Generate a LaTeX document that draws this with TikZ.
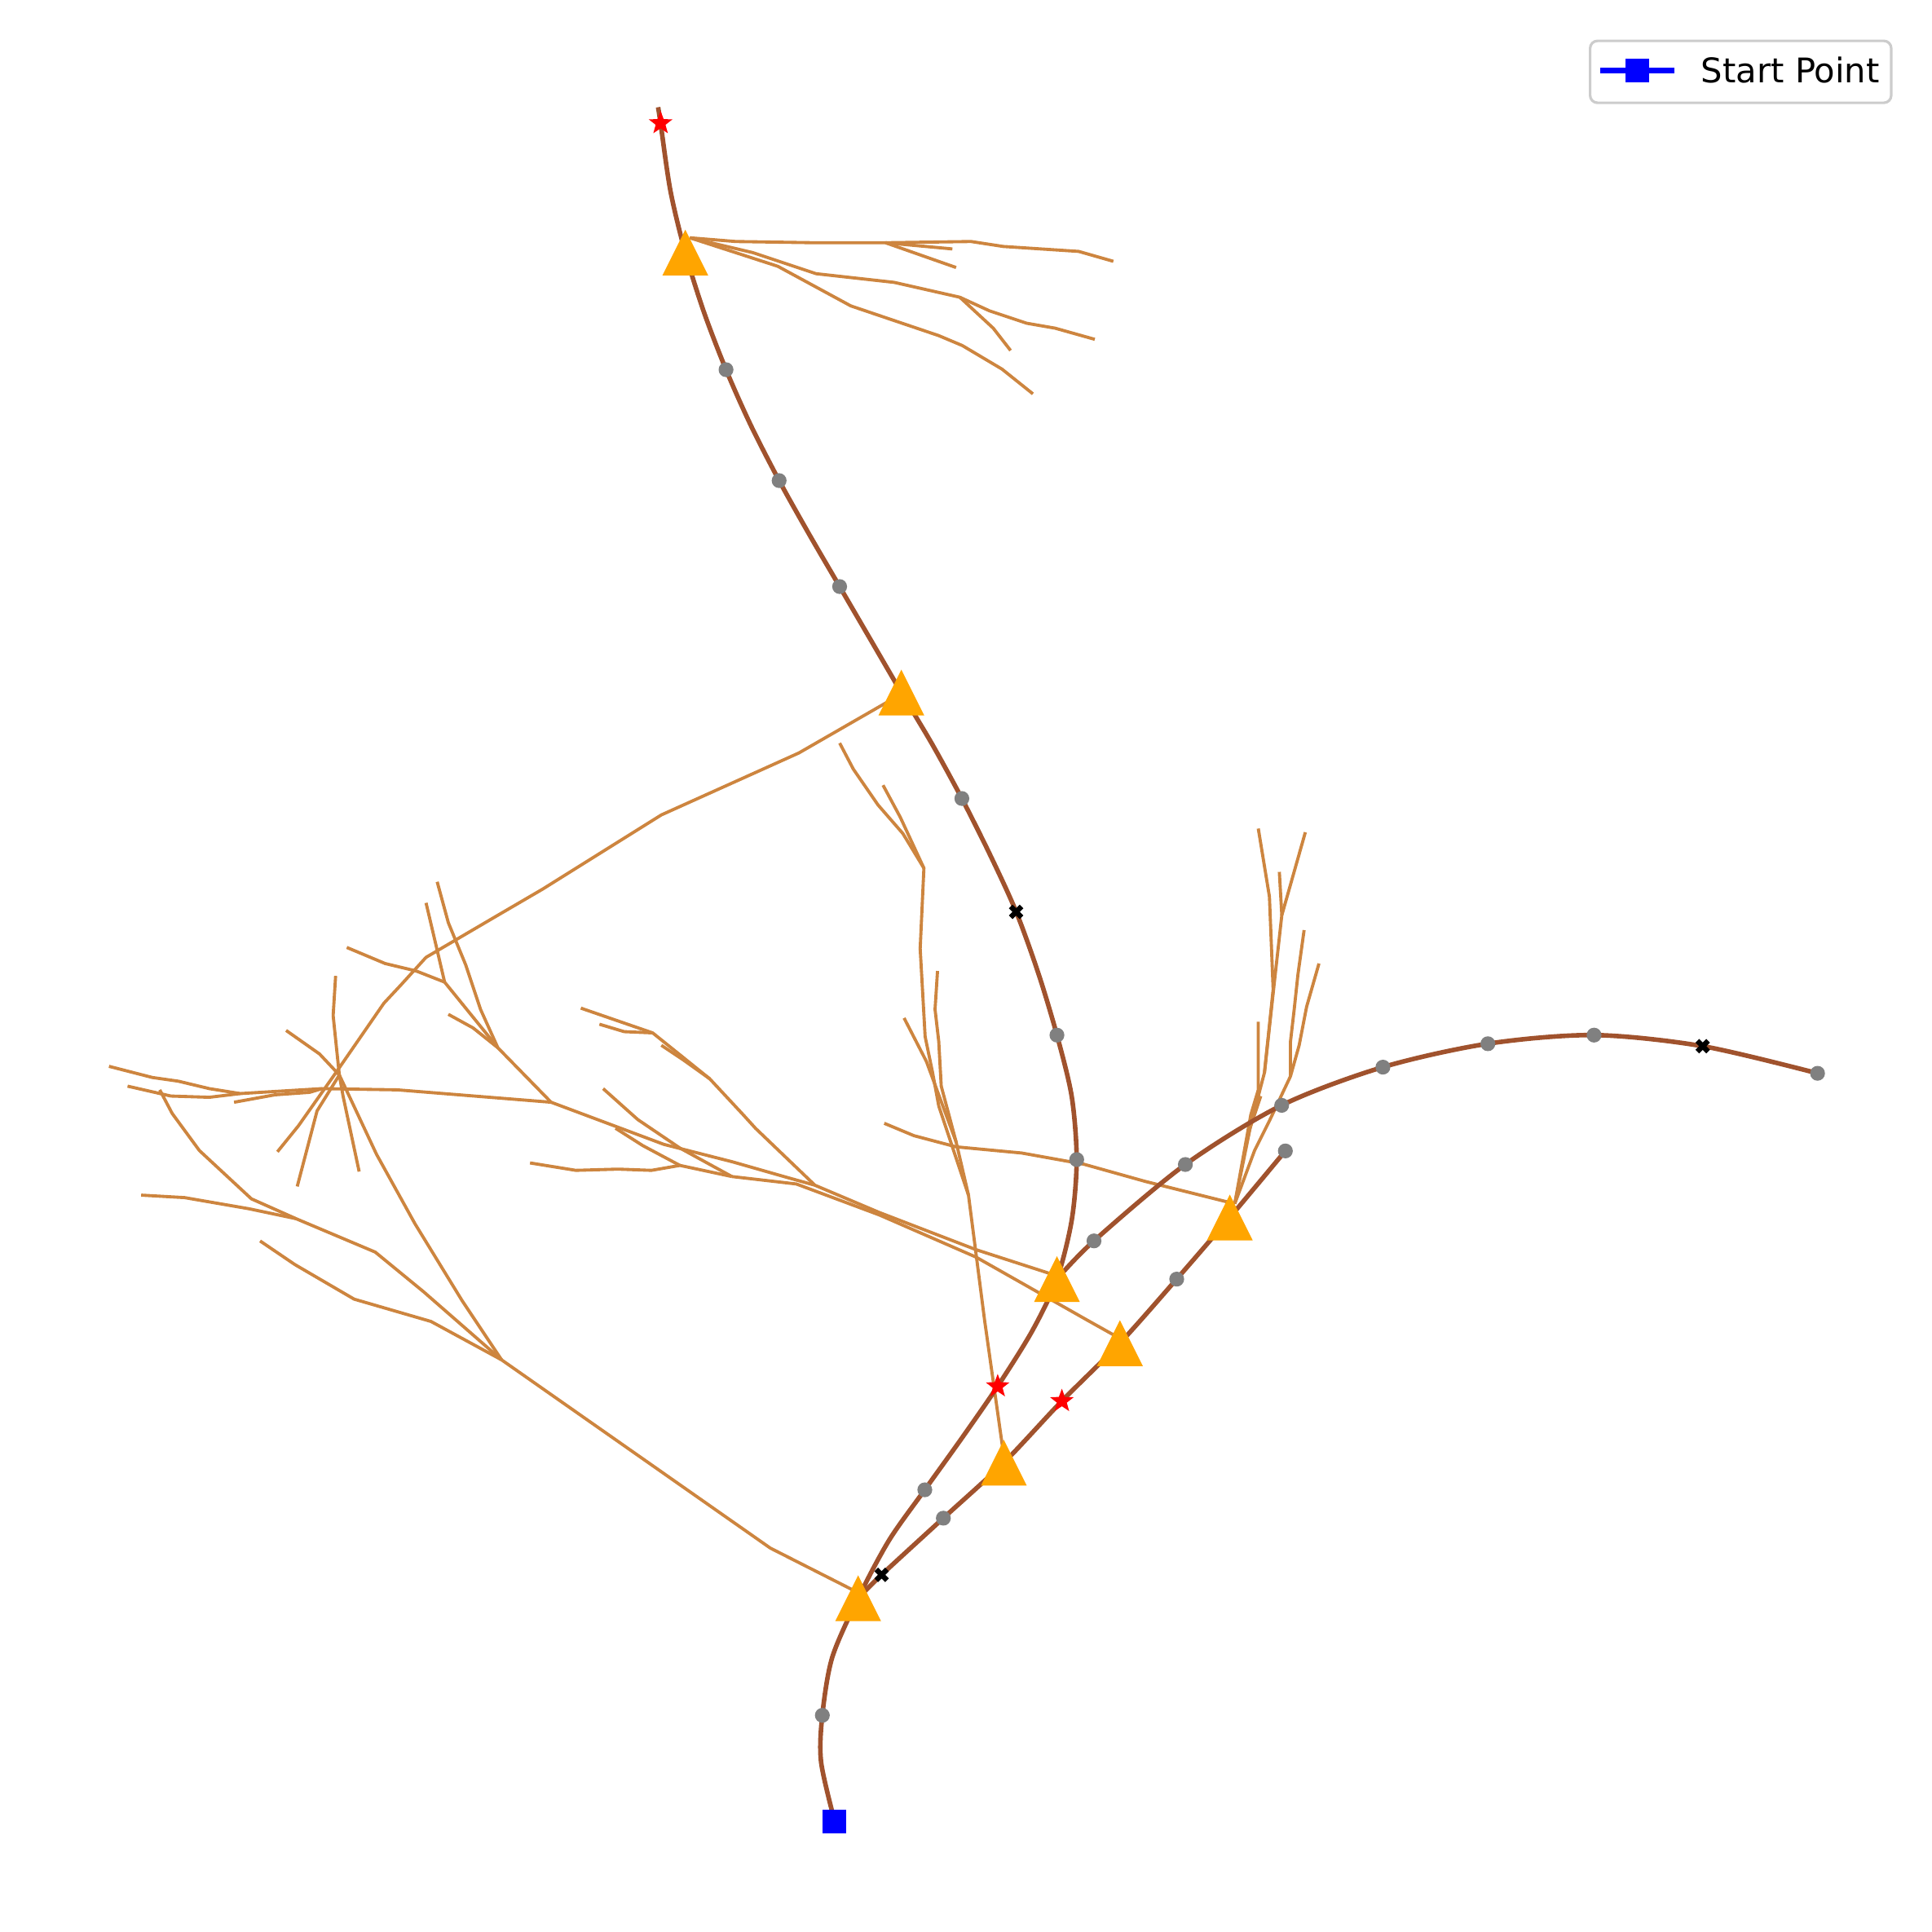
\documentclass[tikz,border=0pt]{standalone}
\usepackage{fontspec}
\setmainfont{DejaVu Sans}
\usetikzlibrary{shapes,positioning}
\definecolor{sienna}{RGB}{160,82,45}
\definecolor{peru}{RGB}{205,133,63}
\definecolor{mplorange}{RGB}{255,165,0}
\definecolor{mplgray}{RGB}{128,128,128}
\tikzstyle{trunk}=[draw=sienna,line width=1.05pt,line join=round]
\tikzstyle{twig}=[draw=peru,line width=0.72pt,line join=round]
\tikzstyle{waypt}=[circle,fill=mplgray,inner sep=0pt,minimum size=1.2mm]
\tikzstyle{hit}=[star,star points=5,star point ratio=2.4,fill=red,inner sep=0pt,minimum size=2mm]
\tikzstyle{miss}=[cross out,draw=black,line width=1.2pt,inner sep=0pt,minimum size=0.45mm]
\tikzstyle{startpt}=[rectangle,fill=blue,inner sep=0pt,minimum size=1.9mm]
\tikzstyle{trimark}=[fill=mplorange]
\tikzstyle{legendbox}=[rectangle,draw=black!20,fill=white,line width=0.6pt,rounded corners=0.6mm,minimum width=2.43cm,minimum height=0.5cm]
\newcommand{\tri}[1]{\fill[trimark] (#1) ++(0,-18.5) -- ++(18.5,37) -- ++(-37,0) -- cycle;}

\begin{document}
\begin{tikzpicture}[x=0.01cm,y=-0.01cm]
            \useasboundingbox (0,0) rectangle (1560,1560);

            % T1 PART
            \draw[twig] (557,192) -- (594,195) -- (658,196) -- (715,196) -- (784,195) -- (810,199) -- (871,203) -- (899,211);
            \draw[twig] (715,196) -- (769,201);
            \draw[twig] (715,196) -- (772,216);
            \draw[twig] (557,192) -- (608,204) -- (659,221) -- (722,228) -- (775,240) -- (799,251) -- (829,261) -- (852,265) -- (884,274);
            \draw[twig] (775,240) -- (802,265) -- (816,283);
            \draw[twig] (557,192) -- (628,215) -- (687,247) -- (758,271) -- (777,279) -- (809,298) -- (834,318);

            % T2 PART
            \draw[twig] (718,566) -- (645,608) -- (534,658) -- (438,718) -- (402,739) -- (344,773) -- (324,795) -- (310,810) -- (272,865) -- (241,909) -- (224,930);

            % T3 PART
            \draw[twig] (853,1030) -- (788,1009) -- (710,979) -- (658,957) -- (633,950) -- (591,938) -- (536,924) -- (445,890);
            \draw[twig] (445,890) -- (402,846) -- (388,815) -- (376,779) -- (362,745) -- (353,712);
            \draw[twig] (402,846) -- (359,793) -- (352,763) -- (344,729);
            \draw[twig] (359,793) -- (336,784) -- (311,778) -- (280,765);
            \draw[twig] (402,846) -- (382,830) -- (362,819);
            \draw[twig] (445,890) -- (321,880) -- (260,879) -- (194,883) -- (169,879) -- (144,873) -- (123,870) -- (88,861);
            \draw[twig] (194,883) -- (169,886) -- (138,885) -- (103,877);
            \draw[twig] (260,879) -- (250,882) -- (222,884) -- (189,890);
            \draw[twig] (658,957) -- (610,911) -- (600,900) -- (573,871) -- (527,834) -- (469,814);
            \draw[twig] (527,834) -- (504,833) -- (484,827);
            \draw[twig] (573,871) -- (552,856) -- (534,844);

            % T4 PART
            \draw[twig] (997,972) -- (1010,908) -- (1021,866) -- (1028,799) -- (1025,724) -- (1016,669);
            \draw[twig] (1021,866) -- (1029,793) -- (1035,739) -- (1054,672);
            \draw[twig] (1035,739) -- (1033,704);
            \draw[twig] (997,972) -- (1013,929) -- (1025,905) -- (1042,869) -- (1042,841) -- (1045,815) -- (1048,787) -- (1053,751);
            \draw[twig] (1042,869) -- (1049,844) -- (1055,813) -- (1065,778);
            \draw[twig] (997,972) -- (1010,900) -- (1016,880) -- (1016,825);
            \draw[twig] (1008,915) -- (1018,885);
            \draw[twig] (997,972) -- (925,954) -- (875,940) -- (825,931) -- (772,926) -- (738,917) -- (714,907);

            % T5 PART
            \draw[twig] (903,1080) -- (878,1066) -- (788,1015) -- (710,981) -- (643,956) -- (591,950);
            \draw[twig] (591,950) -- (549,941) -- (526,945) -- (499,944) -- (465,945) -- (428,939);
            \draw[twig] (549,941) -- (519,925) -- (497,911);
            \draw[twig] (591,950) -- (549,927) -- (515,904) -- (487,879);

            % T6 PART
            \draw[twig] (810,1172) -- (795,1066) -- (782,965);
            \draw[twig] (782,965) -- (758,893) -- (753,866) -- (747,837) -- (743,766) -- (746,701) -- (729,673) -- (709,650) -- (689,621) -- (678,600);
            \draw[twig] (746,701) -- (727,660) -- (713,634);
            \draw[twig] (782,965) -- (772,922) -- (760,877) -- (758,841) -- (755,815) -- (757,784);
            \draw[twig] (772,922) -- (748,857) -- (730,822);

            % T7 PART
            \draw[twig] (689,1284) -- (622,1250) -- (405,1098);
            \draw[twig] (405,1098) -- (373,1050) -- (335,988) -- (304,932) -- (274,868);
            \draw[twig] (274,868) -- (272,849) -- (269,820) -- (271,788);
            \draw[twig] (274,868) -- (277,885) -- (290,946);
            \draw[twig] (274,868) -- (258,851) -- (231,832);
            \draw[twig] (274,868) -- (256,897) -- (240,958);
            \draw[twig] (405,1098) -- (342,1043) -- (303,1011) -- (239,984) -- (203,968) -- (161,929) -- (139,899) -- (129,880);
            \draw[twig] (239,984) -- (201,976) -- (149,967) -- (114,965);
            \draw[twig] (405,1098) -- (348,1067) -- (286,1049) -- (238,1021) -- (210,1002);

            % MAIN PATHS
            \begin{scope}[xscale=0.997,yscale=0.995]
            \coordinate (s0) at (676,1478);
            \coordinate (g1) at (666,1392);
            \coordinate (T7) at (695,1297);
            \coordinate (g2) at (749,1209);
            \coordinate (h1) at (808,1125);
            \coordinate (T3) at (856,1038);
            \coordinate (g3) at (872,941);
            \coordinate (g4) at (856,840);
            \coordinate (m1) at (823,740);
            \coordinate (g5) at (779,648);
            \coordinate (T2) at (730,562);
            \coordinate (g6) at (680,476);
            \coordinate (g7) at (631,390);
            \coordinate (g8) at (588,300);
            \coordinate (T1) at (555,205);
            \coordinate (h2) at (535,100);
            \coordinate (e1) at (533,87);

            \coordinate (m2) at (714,1278);
            \coordinate (g9) at (764,1232);
            \coordinate (T6) at (813,1187);
            \coordinate (h3) at (860,1137);
            \coordinate (T5) at (907,1090);
            \coordinate (g10) at (953,1038);
            \coordinate (T4) at (996,988);
            \coordinate (g11) at (1041,934);

            \coordinate (g12) at (886,1007);
            \coordinate (g13) at (960,945);
            \coordinate (g14) at (1038,897);
            \coordinate (g15) at (1120,866);
            \coordinate (g16) at (1205,847);
            \coordinate (g17) at (1291,840);
            \coordinate (m3) at (1379,849);
            \coordinate (g18) at (1472,871);

            \draw[trunk] plot[smooth,tension=0.5] coordinates {(s0) (665,1430) (g1) (674,1345) (T7) (720,1250) (g2) (779,1167) (h1) (836,1080) (T3) (868,990) (g3) (868,890) (g4) (841,790) (m1) (802,694) (g5) (755,604) (T2) (705,519) (g6) (655,433) (g7) (608,345) (g8) (570,253) (T1) (543,155) (h2) (e1)};
            \draw[trunk] plot[smooth,tension=0.5] coordinates {(T7) (m2) (g9) (T6) (h3) (T5) (g10) (T4) (g11)};
            \draw[trunk] plot[smooth,tension=0.5] coordinates {(T3) (g12) (g13) (g14) (g15) (g16) (g17) (m3) (g18)};
            \end{scope}

            % MARKERS
            \foreach \p in {g1,g2,g3,g4,g5,g6,g7,g8,g9,g10,g11,g12,g13,g14,g15,g16,g17,g18}
                \node[waypt] (w\p) at (\p) {};
            \foreach \p in {h1,h2,h3}
                \node[hit] (s\p) at (\p) {};
            \foreach \p in {m1,m2,m3}
                \node[miss] (x\p) at (\p) {};
            \foreach \p in {T1,T2,T3,T4,T5,T6,T7}
                \tri{\p}
            \node[startpt] (start) at (s0) {};

            % LEGEND
            \node[legendbox] (legend) at (1405.5,58) {};
            \coordinate (ll) at (1292,57);
            \coordinate (lr) at (1352,57);
            \draw[blue,line width=1.2pt] (ll) -- (lr);
            \node[startpt] (lsq) at (1322,57) {};
            \node[anchor=base west,inner sep=0pt,font=\fontsize{7.8pt}{9pt}\selectfont] (ltxt) at (1373,67) {Start Point};

\end{tikzpicture}
\end{document}
